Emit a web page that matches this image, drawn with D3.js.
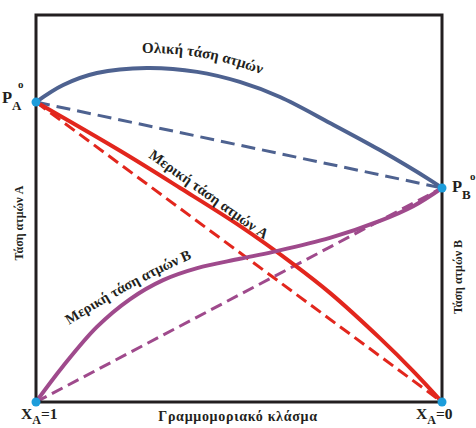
<!DOCTYPE html>
<html>
<head>
<meta charset="utf-8">
<script src="https://cdn.jsdelivr.net/npm/d3@7"></script>
<style>
  body { margin: 0; background: #fff; }
  svg { display: block; }
  text { font-family: "Liberation Serif", "Times New Roman", serif; font-weight: bold; fill: #231f20; }
</style>
</head>
<body>
<svg id="chart" width="476" height="428"></svg>
<script>
// Mole fraction of A: 1 at the left edge (pure A), 0 at the right edge (pure B)
// Vapour pressures in arbitrary units (0..100 spans the frame height)
const totalX = [1, 0.933, 0.85, 0.727, 0.603, 0.498, 0.399, 0.276, 0.153, 0.03, 0];
const totalP = [77.5, 81.9, 85.0, 86.3, 85.3, 82.7, 78.8, 72.1, 65.1, 57.4, 55.3];

const partAX = [1, 0.793, 0.645, 0.498, 0.367, 0.276, 0.153, 0.071, 0];
const partAP = [77.5, 64.9, 55.3, 45.5, 35.7, 28.2, 16.5, 8.0, 0];

const partBX = [1, 0.933, 0.85, 0.768, 0.687, 0.603, 0.498, 0.416, 0.276, 0.153, 0.071, 0];
const partBP = [0, 9.3, 19.4, 26.6, 31.5, 34.6, 37.0, 38.8, 42.4, 46.8, 50.6, 55.3];

// Ideal (Raoult) lines between the pure-component ends
const idealX = [1, 0];
const idealTotalP = [77.5, 55.3];
const idealAP = [77.5, 0];
const idealBP = [0, 55.3];

// End points marked with dots
const dotX = [1, 0, 1, 0];
const dotP = [77.5, 55.3, 0, 0];

const colors = { total: "#4e6290", partA: "#e2261d", partB: "#9f4a8c", dot: "#1d9ddb", frame: "#231f20" };

const svg = d3.select("#chart");
const frame = { left: 36, right: 442, top: 15, bottom: 402 };

const x = d3.scaleLinear().domain([1, 0]).range([frame.left, frame.right]);
const y = d3.scaleLinear().domain([0, 100]).range([frame.bottom, frame.top]);

const zip = (xs, ps) => xs.map((v, i) => ({ x: v, p: ps[i] }));

const curve = d3.line().x(d => x(d.x)).y(d => y(d.p)).curve(d3.curveCatmullRom.alpha(0.5));
const straight = d3.line().x(d => x(d.x)).y(d => y(d.p));

// dashed ideal lines
const dashed = [
  { data: zip(idealX, idealTotalP), color: colors.total, dash: "14,7" },
  { data: zip(idealX, idealAP), color: colors.partA, dash: "12,6" },
  { data: zip(idealX, idealBP), color: colors.partB, dash: "12,6" }
];
svg.selectAll("path.ideal").data(dashed).join("path")
  .attr("class", "ideal")
  .attr("d", d => straight(d.data))
  .attr("fill", "none")
  .attr("stroke", d => d.color)
  .attr("stroke-width", 3)
  .attr("stroke-dasharray", d => d.dash);

// real curves
const real = [
  { id: "curveA", data: zip(partAX, partAP), color: colors.partA },
  { id: "curveB", data: zip(partBX, partBP), color: colors.partB },
  { id: "curveT", data: zip(totalX, totalP), color: colors.total }
];
svg.selectAll("path.real").data(real).join("path")
  .attr("class", "real")
  .attr("id", d => d.id)
  .attr("d", d => curve(d.data))
  .attr("fill", "none")
  .attr("stroke", d => d.color)
  .attr("stroke-width", 4)
  .attr("stroke-linecap", "round");

// frame
svg.append("rect")
  .attr("x", frame.left).attr("y", frame.top)
  .attr("width", frame.right - frame.left).attr("height", frame.bottom - frame.top)
  .attr("fill", "none").attr("stroke", colors.frame).attr("stroke-width", 3);

// end point dots
svg.selectAll("circle.end").data(zip(dotX, dotP)).join("circle")
  .attr("class", "end")
  .attr("cx", d => x(d.x)).attr("cy", d => y(d.p)).attr("r", 4.5)
  .attr("fill", colors.dot);

// helper: arc length on a path where its x first reaches a value
function lengthAtX(node, targetX) {
  let lo = 0, hi = node.getTotalLength();
  for (let i = 0; i < 40; i++) {
    const mid = (lo + hi) / 2;
    if (node.getPointAtLength(mid).x < targetX) lo = mid; else hi = mid;
  }
  return lo;
}

const defs = svg.append("defs");

// label riding above the total pressure curve
const totalLabelPath = defs.append("path")
  .attr("id", "totalLabelPath")
  .attr("d", d3.line().x(d => x(d.x)).y(d => y(d.p) - 15).curve(d3.curveCatmullRom.alpha(0.5))(zip(totalX, totalP)));
svg.append("text").attr("font-size", 15)
  .append("textPath").attr("href", "#totalLabelPath")
  .attr("startOffset", lengthAtX(totalLabelPath.node(), 142))
  .text("Ολική τάση ατμών");

// partial pressure A label, along the red curve
svg.append("text").attr("font-size", 14.7)
  .attr("transform", "translate(148,157) rotate(35.5)")
  .text("Μερική τάση ατμών A");

// partial pressure B label, gently curved above the purple curve
defs.append("path").attr("id", "labelBPath").attr("d", "M69,325 Q144,277 214,249");
svg.append("text").attr("font-size", 14.5)
  .append("textPath").attr("href", "#labelBPath")
  .text("Μερική τάση ατμών B");

// pure component vapour pressures
function pLabel(px, py, sub) {
  const t = svg.append("text").attr("x", px).attr("y", py).attr("font-size", 16.5);
  t.append("tspan").text("P");
  t.append("tspan").attr("font-size", 13).attr("dy", 7).text(sub);
  return t;
}
pLabel(2, 103, "A");
svg.append("text").attr("x", 18).attr("y", 88).attr("font-size", 11).text("o");
pLabel(452, 192, "B");
svg.append("text").attr("x", 470).attr("y", 180).attr("font-size", 11).text("o");

// composition end labels
function xLabel(px, val) {
  const t = svg.append("text").attr("x", px).attr("y", 419).attr("font-size", 15.5);
  t.append("tspan").text("X");
  t.append("tspan").attr("font-size", 12).attr("dy", 5).text("A");
  t.append("tspan").attr("dy", -5).text("=" + val);
}
xLabel(21, "1");
xLabel(416, "0");

svg.append("text").attr("x", 238).attr("y", 421).attr("font-size", 14)
  .attr("letter-spacing", 0.7)
  .attr("text-anchor", "middle").text("Γραμμομοριακό κλάσμα");

svg.append("text").attr("font-size", 12).attr("text-anchor", "middle")
  .attr("transform", "translate(23,223) rotate(-90)").text("Τάση ατμών A");
svg.append("text").attr("font-size", 12).attr("text-anchor", "middle")
  .attr("transform", "translate(462,277) rotate(-90)").text("Τάση ατμών B");
</script>
</body>
</html>
